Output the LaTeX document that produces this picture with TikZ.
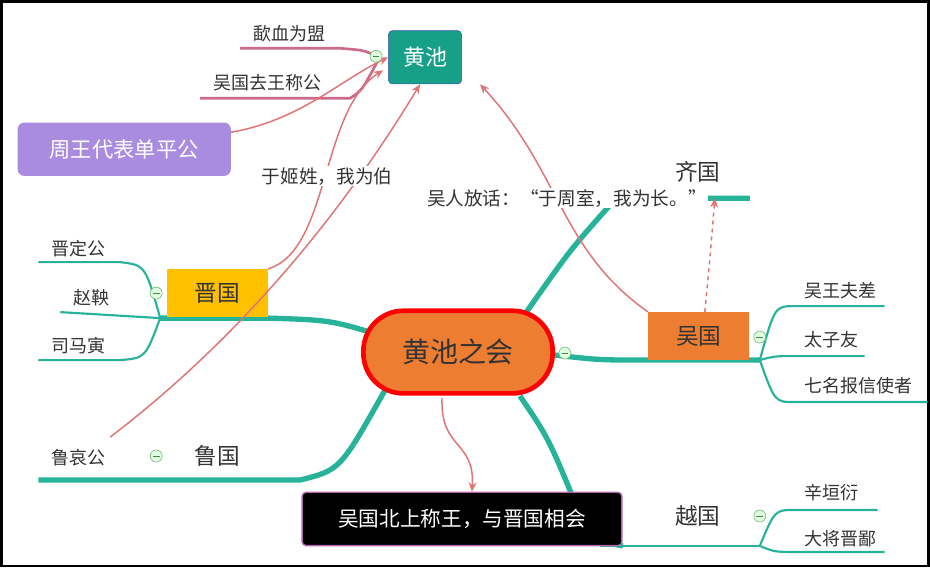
\documentclass[tikz,border=0pt]{standalone}
\usepackage{fontspec}
\setmainfont{Noto Sans CJK SC}
\usetikzlibrary{arrows.meta}
\definecolor{branch}{HTML}{26B39A}
\definecolor{rel}{HTML}{E07474}
\definecolor{pinkline}{HTML}{CC6A8C}
\definecolor{hc}{HTML}{ED7D31}
\definecolor{tealbox}{HTML}{17A088}
\definecolor{purplebox}{HTML}{A98BE0}
\definecolor{gold}{HTML}{FFC000}
\definecolor{txt}{HTML}{333333}
\tikzset{
  leaf/.style={font=\fontsize{13.5}{15}\selectfont, text=txt, anchor=south west, inner sep=1pt},
  topic/.style={font=\fontsize{17}{19}\selectfont, text=txt, minimum height=36pt, align=center},
  fold/.style={circle, draw=green!50!black!60, fill=green!12, minimum size=9pt, inner sep=0pt,
    path picture={\draw[green!30!black!70] ([xshift=-2.5pt]path picture bounding box.center) -- ([xshift=2.5pt]path picture bounding box.center);}},
  thick branch/.style={branch, line width=4pt},
  thin branch/.style={branch, line width=1.6pt},
  relarrow/.style={rel, line width=1.1pt, -{Stealth[length=7pt,width=6pt]}},
  note/.style={font=\fontsize{14}{16}\selectfont, text=txt, fill=white, inner sep=1pt}
}
\begin{document}
\begin{tikzpicture}[x=0.75pt, y=-0.75pt]
\draw[line width=2pt, fill=white] (1,1) rectangle (929,566);

% branches
\draw[thick branch] (380,335) .. controls (330,320) .. (268,318) -- (160,318);
\draw[thick branch] (385,390) .. controls (340,470) .. (300,480) -- (38,480);
\draw[thick branch] (525,314) .. controls (570,250) .. (610,205) .. controls (620,198) .. (640,198) -- (750,198);
\draw[thick branch] (555,355) .. controls (600,360) .. (650,360) -- (760,360);
\draw[thick branch] (520,396) .. controls (550,440) .. (590,540) -- (623,546);
\draw[thin branch] (600,546) -- (760,546);

% central topic and main boxes
\node[draw=red, line width=3.5pt, fill=hc, rounded corners=30pt, minimum width=142pt, minimum height=62pt,
  font=\fontsize{21}{24}\selectfont, text=txt] (center) at (458,352) {黄池之会};
\node[draw=blue!40!gray, fill=tealbox, rounded corners=3pt, minimum width=55pt, minimum height=40pt,
  font=\fontsize{16.5}{18}\selectfont, text=white] (hc) at (425,57) {黄池};
\node[fill=purplebox, rounded corners=5pt, minimum width=160pt, minimum height=40pt,
  font=\fontsize{16}{18}\selectfont, text=white] (zhou) at (124,149) {周王代表单平公};
\node[topic, fill=gold, minimum width=76pt] (jin) at (217,293) {晋国};
\node[topic, fill=hc, minimum width=76pt] (wu) at (699,336) {吴国};
\node[topic] (lu) at (217,456) {鲁国};
\node[topic] (yue) at (698,516) {越国};
\node[topic] (qi) at (698,172) {齐国};
\node[draw=violet!60, line width=1pt, fill=black, rounded corners=3pt, minimum width=240pt, minimum height=40pt,
  font=\fontsize{15.5}{18}\selectfont, text=white] (meet) at (462,519) {吴国北上称王，与晋国相会};

% leaves of 晋国
\coordinate (jfork) at (160,318);
\node[leaf] (jd) at (50,258) {晋定公};
\node[leaf] (zy) at (72,307) {赵鞅};
\node[leaf] (sm) at (50,355) {司马寅};
\draw[thin branch] (jfork) .. controls (145,265) .. (120,262) -- (38,262);
\draw[thin branch] (jfork) -- (60,312);
\draw[thin branch] (jfork) .. controls (145,358) .. (120,360) -- (38,360);
\node[leaf] (laig) at (50,468) {鲁哀公};

% leaves of 吴国
\coordinate (wfork) at (760,360);
\node[leaf] (fc) at (803,300) {吴王夫差};
\node[leaf] (tz) at (803,349) {太子友};
\node[leaf] (qm) at (803,396) {七名报信使者};
\draw[thin branch] (wfork) .. controls (775,306) .. (795,306) -- (885,306);
\draw[thin branch] (wfork) .. controls (775,356) .. (795,356) -- (865,356);
\draw[thin branch] (wfork) .. controls (775,402) .. (795,402) -- (928,402);

% leaves of 越国
\coordinate (yfork) at (760,546);
\node[leaf] (xy) at (803,503) {辛垣衍};
\node[leaf] (jb) at (803,549) {大将晋鄙};
\draw[thin branch] (yfork) .. controls (775,510) .. (795,510) -- (878,510);
\draw[thin branch] (yfork) .. controls (775,552) .. (795,552) -- (885,552);

% leaves of 黄池
\node[leaf] (xue) at (252,43) {歃血为盟};
\node[leaf] (qw) at (212,92) {吴国去王称公};
\draw[pinkline, line width=2pt] (240,48) -- (340,48) .. controls (365,50) .. (378,57);
\draw[pinkline, line width=2pt] (200,98) -- (350,98) .. controls (362,90) .. (378,60);

% relations
\draw[relarrow] (zhou.east |- 0,132) .. controls (300,120) and (340,80) .. (hc.west);
\draw[relarrow] (jin.north east) .. controls (330,250) and (320,110) .. (383,70);
\draw[relarrow] (110,437) .. controls (250,330) and (350,200) .. (420,84);
\draw[relarrow] (wu.north west) .. controls (560,250) and (560,170) .. (480,84);
\draw[rel, line width=1.1pt, dashed, -{Stealth[length=7pt,width=6pt]}] (705,312) .. controls (710,260) .. (715,198);
\draw[relarrow] (442,398) .. controls (440,450) and (475,440) .. (meet.north -| 472,0);
\node[note] (jx) at (327,176) {于姬姓，我为伯};
\node[note] (wr) at (567,198) {吴人放话：“于周室，我为长。”};

% fold markers
\foreach \p in {(376,56),(156,293),(565,353),(760,337),(156,456),(760,516)}
  \node[fold] at \p {};
\end{tikzpicture}
\end{document}
